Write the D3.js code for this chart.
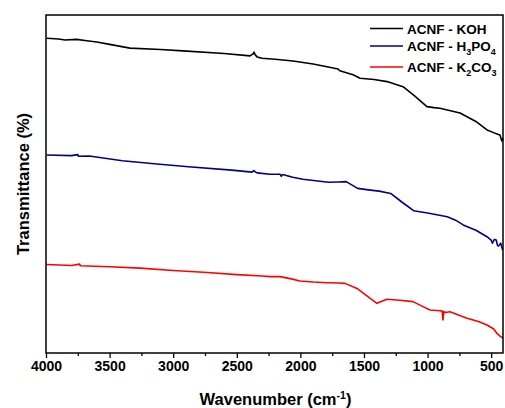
<!DOCTYPE html>
<html><head><meta charset="utf-8">
<script src="https://cdn.jsdelivr.net/npm/d3@7"></script>
<style>body{margin:0;background:#fff}svg{display:block;font-family:"Liberation Sans",Arial,sans-serif;font-weight:bold}</style>
</head><body><svg id="c" width="505" height="408"></svg>
<script>
const wavKOH=[3995,3900,3850,3760,3680,3600,3500,3340,3100,2923,2600,2396,2372,2365,2355,2340,2302,2200,2058,1900,1791,1704,1690,1586,1531,1420,1319,1193,1100,1005,950,903,745,620,533,480,455,431,420,415,407];
const tKOH=[93.1,92.9,92.6,92.8,92.4,92.0,91.3,90.2,89.8,89.4,88.6,87.9,88.5,89.0,88.2,87.6,87.2,86.9,86.4,85.5,84.7,84.0,83.5,82.3,81.3,80.9,80.3,78.8,76.0,72.9,72.6,72.4,71.0,68.5,66.0,65.2,64.8,64.5,63.2,62.7,63.5];
const wavH3PO4=[3995,3800,3750,3745,3660,3550,3400,3150,2880,2540,2380,2365,2355,2340,2240,2160,2150,2140,2060,1980,1780,1700,1640,1600,1550,1450,1380,1290,1200,1110,1000,845,780,720,620,533,500,490,475,460,450,440,425,410];
const tH3PO4=[58.6,58.4,58.7,58.2,58.3,57.7,56.9,56.0,55.1,54.1,53.5,54.0,53.6,53.3,52.9,52.9,52.3,52.8,52.0,51.4,50.5,50.6,50.7,49.8,48.7,48.2,47.9,47.2,44.6,42.1,41.4,40.3,39.3,37.9,36.3,34.4,33.4,32.5,33.6,33.4,31.8,31.7,32.5,30.5];
const wavK2CO3=[3995,3800,3735,3730,3500,3260,3000,2730,2500,2300,2240,2160,2080,2003,1900,1791,1700,1649,1555,1480,1398,1360,1319,1220,1115,1040,981,903,885,879,872,863,824,690,600,533,480,454,430,415,407];
const tK2CO3=[26.2,25.9,26.3,25.8,25.5,25.1,24.4,23.8,23.2,22.8,22.6,22.6,22.0,21.3,21.0,20.8,20.7,20.6,19.1,17.0,14.7,15.3,15.9,15.6,15.2,13.8,12.7,12.5,12.4,9.8,12.3,12.0,12.2,10.3,9.3,8.3,7.1,5.8,5.0,4.6,4.3];
const xMajor=[4000,3500,3000,2500,2000,1500,1000,500];
const xMinor=[3750,3250,2750,2250,1750,1250,750];
const seriesNames=["ACNF - KOH","ACNF - H3PO4","ACNF - K2CO3"];
const seriesColors=["#000000","#00008B","#FF0000"];

const L=46,R=503,T=15,B=353;
const svg=d3.select("#c");
const x=d3.scaleLinear().domain([4000,407]).range([L,R]);
const y=d3.scaleLinear().domain([0,100]).range([B,T]);

const series=[[wavKOH,tKOH],[wavH3PO4,tH3PO4],[wavK2CO3,tK2CO3]];
const line=d3.line().x(d=>x(d[0])).y(d=>y(d[1]));
series.forEach((s,i)=>{
  const pts=s[0].map((w,j)=>[w,s[1][j]]);
  svg.append("path").datum(pts).attr("d",line).attr("fill","none")
    .attr("stroke",seriesColors[i]).attr("stroke-width",1.6).attr("stroke-linejoin","round");
});

// minor ticks
svg.append("g").attr("transform",`translate(0,${B})`)
  .call(d3.axisBottom(x).tickValues(xMinor).tickSize(3).tickFormat(""))
  .call(g=>g.select(".domain").remove())
  .call(g=>g.selectAll("line").attr("stroke-width",1.3));
// major ticks
svg.append("g").attr("transform",`translate(0,${B})`)
  .call(d3.axisBottom(x).tickValues(xMajor).tickSize(5).tickPadding(3).tickFormat(d3.format("d")))
  .call(g=>g.select(".domain").remove())
  .call(g=>g.selectAll("line").attr("stroke-width",1.3))
  .call(g=>g.selectAll("text").attr("font-size","14px").attr("font-weight","bold").attr("font-family","Liberation Sans, Arial, sans-serif").attr("fill","#000"));

// frame
svg.append("rect").attr("x",L).attr("y",T).attr("width",R-L).attr("height",B-T)
  .attr("fill","none").attr("stroke","#000").attr("stroke-width",1.5);

// titles
const xt=svg.append("text").attr("x",(L+R)/2+1).attr("y",405).attr("text-anchor","middle").attr("font-size","16.5px");
xt.append("tspan").text("Wavenumber (cm");
xt.append("tspan").attr("font-size","10.5px").attr("dy","-6").text("-1");
xt.append("tspan").attr("dy","6").text(")");
svg.append("text").attr("transform","translate(29,184) rotate(-90)").attr("text-anchor","middle")
  .attr("font-size","16.5px").text("Transmittance (%)");

// legend
const legY=[28.5,46,67];
const legParts=[[["ACNF - KOH",0]],[["ACNF - H",0],["3",1],["PO",0],["4",1]],[["ACNF - K",0],["2",1],["CO",0],["3",1]]];
legParts.forEach((parts,i)=>{
  svg.append("line").attr("x1",370).attr("x2",403).attr("y1",legY[i]).attr("y2",legY[i])
    .attr("stroke",seriesColors[i]).attr("stroke-width",1.3);
  const t=svg.append("text").attr("x",407).attr("y",legY[i]+5).attr("font-size","13.5px");
  let sub=false;
  parts.forEach(([s,isSub])=>{
    const ts=t.append("tspan").text(s);
    if(isSub&&!sub){ts.attr("dy",4).attr("font-size","9px");sub=true;}
    else if(!isSub&&sub){ts.attr("dy",-4);sub=false;}
    else if(isSub){ts.attr("font-size","9px");}
  });
});
</script></body></html>
